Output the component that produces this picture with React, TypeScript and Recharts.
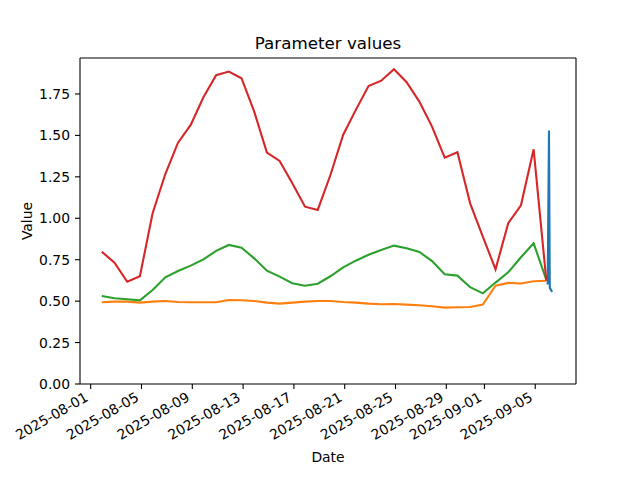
import React from 'react';
import { LineChart, Line, XAxis, YAxis, ReferenceLine, Label } from 'recharts';

const BASE = Date.UTC(2025, 7, 1);
const toDays = (s: string) => (Date.parse(s + 'Z') - BASE) / 86400000;

const dailyTimes = [
  '2025-08-01T21:00', '2025-08-02T21:00', '2025-08-03T21:00', '2025-08-04T21:00',
  '2025-08-05T21:00', '2025-08-06T21:00', '2025-08-07T21:00', '2025-08-08T21:00',
  '2025-08-09T21:00', '2025-08-10T21:00', '2025-08-11T21:00', '2025-08-12T21:00',
  '2025-08-13T21:00', '2025-08-14T21:00', '2025-08-15T21:00', '2025-08-16T21:00',
  '2025-08-17T21:00', '2025-08-18T21:00', '2025-08-19T21:00', '2025-08-20T21:00',
  '2025-08-21T21:00', '2025-08-22T21:00', '2025-08-23T21:00', '2025-08-24T21:00',
  '2025-08-25T21:00', '2025-08-26T21:00', '2025-08-27T21:00', '2025-08-28T21:00',
  '2025-08-29T21:00', '2025-08-30T21:00', '2025-08-31T21:00', '2025-09-01T21:00',
  '2025-09-02T21:00', '2025-09-03T21:00', '2025-09-04T21:00', '2025-09-05T21:00',
];

const redValues = [
  0.798, 0.732, 0.617, 0.650, 1.030, 1.267, 1.456, 1.563, 1.730, 1.863, 1.885, 1.845,
  1.643, 1.396, 1.346, 1.211, 1.070, 1.050, 1.261, 1.503, 1.654, 1.798, 1.830, 1.899,
  1.821, 1.704, 1.553, 1.366, 1.398, 1.090, 0.889, 0.692, 0.970, 1.078, 1.416, 0.623,
];

const greenValues = [
  0.531, 0.517, 0.511, 0.505, 0.567, 0.644, 0.682, 0.714, 0.752, 0.803, 0.839, 0.823,
  0.758, 0.684, 0.648, 0.608, 0.593, 0.605, 0.650, 0.704, 0.744, 0.780, 0.809, 0.835,
  0.819, 0.797, 0.742, 0.662, 0.654, 0.584, 0.547, 0.612, 0.674, 0.765, 0.849, 0.628,
];

const orangeValues = [
  0.493, 0.497, 0.497, 0.491, 0.497, 0.501, 0.495, 0.493, 0.493, 0.493, 0.507, 0.505,
  0.501, 0.491, 0.485, 0.491, 0.497, 0.501, 0.501, 0.495, 0.491, 0.485, 0.481, 0.483,
  0.479, 0.475, 0.469, 0.461, 0.463, 0.465, 0.479, 0.593, 0.610, 0.606, 0.620, 0.623,
];

const blueTimes = ['2025-09-05T23:30', '2025-09-06T02:00', '2025-09-06T03:30', '2025-09-06T08:00'];
const blueValues = [0.60, 1.53, 0.58, 0.556];

const tickDates = [
  '2025-08-01', '2025-08-05', '2025-08-09', '2025-08-13', '2025-08-17',
  '2025-08-21', '2025-08-25', '2025-08-29', '2025-09-01', '2025-09-05',
];
const yTicks = [0, 0.25, 0.5, 0.75, 1.0, 1.25, 1.5, 1.75];

const X_MIN = -0.842;
const X_MAX = 38.21;
const Y_MAX = 1.967;

const mk = (times: string[], vals: number[]) => times.map((t, i) => ({ t: toDays(t), v: vals[i] }));
const redData = mk(dailyTimes, redValues);
const greenData = mk(dailyTimes, greenValues);
const orangeData = mk(dailyTimes, orangeValues);
const blueData = mk(blueTimes, blueValues);

const tickValues = tickDates.map((d) => toDays(d + 'T00:00'));

const FONT = 'DejaVu Sans, sans-serif';

const XTick = (props: any) => {
  const { x, y, payload } = props;
  const idx = tickValues.findIndex((t) => Math.abs(t - payload.value) < 1e-6);
  const label = idx >= 0 ? tickDates[idx] : '';
  const ax = x - 1.6;
  const ay = y + 11;
  return (
    <text
      x={ax}
      y={ay}
      textAnchor="end"
      transform={`rotate(-30 ${ax} ${ay})`}
      fontFamily={FONT}
      fontSize={13.9}
      fill="#000"
    >
      {label}
    </text>
  );
};

export default function App() {
  return (
    <div style={{ position: 'absolute', left: 0, top: 0, width: 640, height: 480, background: '#fff' }}>
      <LineChart
        width={640}
        height={480}
        margin={{ top: 58, right: 64, bottom: 26, left: 20 }}
      >
        <text x={328} y={49} textAnchor="middle" fontFamily={FONT} fontSize={16.7} fill="#000">
          Parameter values
        </text>
        <XAxis
          dataKey="t"
          type="number"
          domain={[X_MIN, X_MAX]}
          allowDataOverflow
          ticks={tickValues}
          interval={0}
          height={70}
          tickSize={5}
          tickMargin={0}
          tick={<XTick />}
          axisLine={{ stroke: '#000', strokeWidth: 1.1 }}
          tickLine={{ stroke: '#000', strokeWidth: 1.1 }}
        >
          <Label
            content={(p: any) => {
              const vb = p.viewBox || { x: 80, width: 496, y: 384 };
              return (
                <text x={vb.x + vb.width / 2} y={462} textAnchor="middle" fontFamily={FONT} fontSize={13.9} fill="#000">
                  Date
                </text>
              );
            }}
          />
        </XAxis>
        <YAxis
          type="number"
          domain={[0, Y_MAX]}
          allowDataOverflow
          ticks={yTicks}
          interval={0}
          width={60}
          tickSize={5}
          tickMargin={5}
          tickFormatter={(v: number) => v.toFixed(2)}
          tick={{ fontFamily: FONT, fontSize: 13.9, fill: '#000' }}
          axisLine={{ stroke: '#000', strokeWidth: 1.1 }}
          tickLine={{ stroke: '#000', strokeWidth: 1.1 }}
        >
          <Label
            content={() => (
              <text
                x={32}
                y={221}
                textAnchor="middle"
                transform="rotate(-90 32 221)"
                fontFamily={FONT}
                fontSize={13.9}
                fill="#000"
              >
                Value
              </text>
            )}
          />
        </YAxis>
        <ReferenceLine y={Y_MAX} stroke="#000" strokeWidth={1.1} />
        <ReferenceLine x={X_MAX} stroke="#000" strokeWidth={1.1} />
        <Line data={blueData} dataKey="v" stroke="#1f77b4" strokeWidth={2.1} dot={false} isAnimationActive={false} />
        <Line data={orangeData} dataKey="v" stroke="#ff7f0e" strokeWidth={2.1} dot={false} isAnimationActive={false} />
        <Line data={greenData} dataKey="v" stroke="#2ca02c" strokeWidth={2.1} dot={false} isAnimationActive={false} />
        <Line data={redData} dataKey="v" stroke="#d62728" strokeWidth={2.1} dot={false} isAnimationActive={false} />
      </LineChart>
    </div>
  );
}
